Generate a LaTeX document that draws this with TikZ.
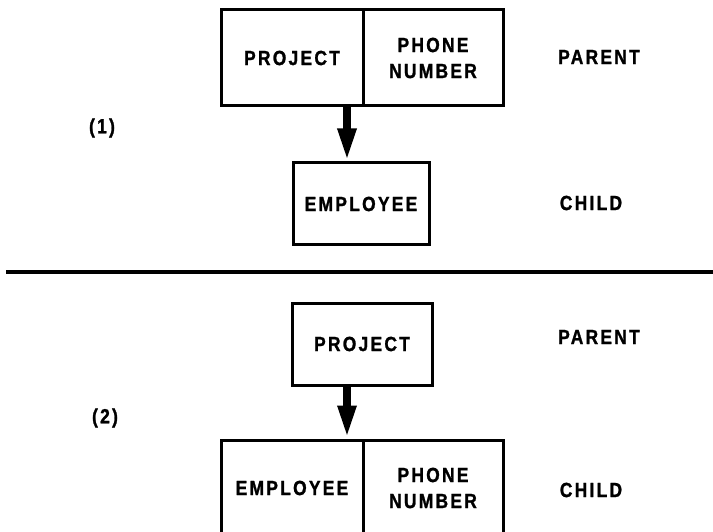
\documentclass[tikz,border=0pt]{standalone}
\usepackage{fontspec}
\newfontfamily\labfont{Liberation Sans Bold}[FakeStretch=0.85, LetterSpace=11, FakeBold=1.2]
\usetikzlibrary{arrows.meta}

\tikzset{
  cell/.style={draw, line width=3pt, rectangle, inner sep=0pt,
    align=center, font=\fontsize{20.5}{26}\labfont},
  label/.style={inner sep=0pt, font=\fontsize{20.5}{26}\labfont},
  link/.style={line width=8pt, -{Triangle[width=17pt,length=33pt]}},
  rule/.style={line width=3.5pt}
}

\begin{document}
\begin{tikzpicture}[x=1pt, y=-1pt]
  \useasboundingbox (0,0) rectangle (713,532);

  % ---- variant (1): PROJECT + PHONE NUMBER own EMPLOYEE ----
  \node[cell, minimum width=142pt, minimum height=96pt] (proj1) at (292,58) {PROJECT};
  \node[cell, minimum width=140pt, minimum height=96pt] (phone1) at (433,58) {PHONE\\NUMBER};
  \node[cell, minimum width=136pt, minimum height=82pt] (emp1) at (361,204) {EMPLOYEE};
  \coordinate (ax1) at (347,0);
  \draw[link] (ax1 |- proj1.south) -- (ax1 |- emp1.north);

  \node[label] (num1) at (102,128) {(1)};
  \node[label] (par1) at (599,57) {PARENT};
  \node[label] (chi1) at (591,203) {CHILD};

  % ---- separator ----
  \coordinate (sepL) at (6,272);
  \coordinate (sepR) at (713,272);
  \draw[rule] (sepL) -- (sepR);

  % ---- variant (2): PROJECT owns EMPLOYEE + PHONE NUMBER ----
  \node[cell, minimum width=140pt, minimum height=82pt] (proj2) at (362,344) {PROJECT};
  \node[cell, minimum width=142pt, minimum height=96pt] (emp2) at (292,488) {EMPLOYEE};
  \node[cell, minimum width=140pt, minimum height=96pt] (phone2) at (433,488) {PHONE\\NUMBER};
  \coordinate (ax2) at (347,0);
  \draw[link] (ax2 |- proj2.south) -- (ax2 |- emp2.north);

  \node[label] (num2) at (105,418) {(2)};
  \node[label] (par2) at (599,337) {PARENT};
  \node[label] (chi2) at (591,490) {CHILD};
\end{tikzpicture}
\end{document}
